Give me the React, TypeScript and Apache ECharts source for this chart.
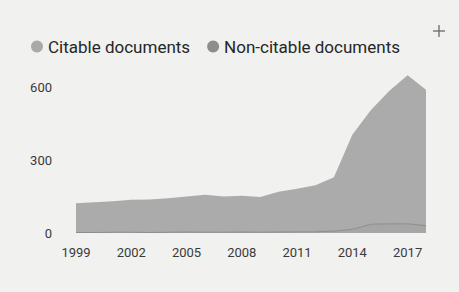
import React, { useEffect, useRef } from "react";
import * as echarts from "echarts";

const years = ["1999","2000","2001","2002","2003","2004","2005","2006","2007","2008","2009","2010","2011","2012","2013","2014","2015","2016","2017","2018"];
const citable = [121,125,128,134,136,140,146,154,147,149,145,166,177,192,222,390,469,547,612,560];
const nonCitable = [2,2,3,3,2,3,4,3,3,4,3,4,5,5,8,15,36,38,38,30];
const legendNames = ["Citable documents", "Non-citable documents"];

export default function App() {
  const ref = useRef<HTMLDivElement>(null);
  useEffect(() => {
    document.body.style.margin = "0";
    const chart = echarts.init(ref.current!, null, { renderer: "svg" });
    chart.setOption({
      animation: false,
      backgroundColor: "#f1f1ef",
      textStyle: { fontFamily: "Roboto" },
      legend: {
        data: legendNames,
        left: 26,
        top: 33,
        icon: "circle",
        itemWidth: 12,
        itemHeight: 12,
        itemGap: 17,
        textStyle: { fontSize: 17, color: "#262626", fontFamily: "Roboto" },
      },
      graphic: [
        { type: "line", shape: { x1: 433, y1: 31, x2: 445, y2: 31 }, style: { stroke: "#6a6a6a", lineWidth: 1.3 } },
        { type: "line", shape: { x1: 439, y1: 25, x2: 439, y2: 37 }, style: { stroke: "#6a6a6a", lineWidth: 1.3 } },
      ],
      grid: { left: 76, right: 33, top: 63, bottom: 59 },
      xAxis: {
        type: "category",
        data: years,
        boundaryGap: false,
        axisLine: { show: false },
        axisTick: { show: false },
        axisLabel: { interval: 2, margin: 13, fontSize: 13, color: "#3a3a3a", fontFamily: "Roboto" },
        splitLine: { show: false },
      },
      yAxis: {
        type: "value",
        min: 0,
        max: 700,
        interval: 300,
        axisLine: { show: false },
        axisTick: { show: false },
        splitLine: { show: false },
        axisLabel: { margin: 24, fontSize: 13, color: "#3a3a3a", fontFamily: "Roboto", showMaxLabel: false },
      },
      series: [
        {
          name: "Non-citable documents",
          type: "line",
          stack: "docs",
          data: nonCitable,
          symbol: "none",
          color: "#8e8e8e",
          lineStyle: { width: 1, color: "#8c8c8c" },
          areaStyle: { color: "#a6a6a6", opacity: 1 },
        },
        {
          name: "Citable documents",
          type: "line",
          stack: "docs",
          data: citable,
          symbol: "none",
          color: "#a9a9a9",
          lineStyle: { width: 0 },
          areaStyle: { color: "#ababab", opacity: 1 },
        },
      ],
    });
    return () => chart.dispose();
  }, []);
  return <div ref={ref} style={{ width: 459, height: 292 }} />;
}
